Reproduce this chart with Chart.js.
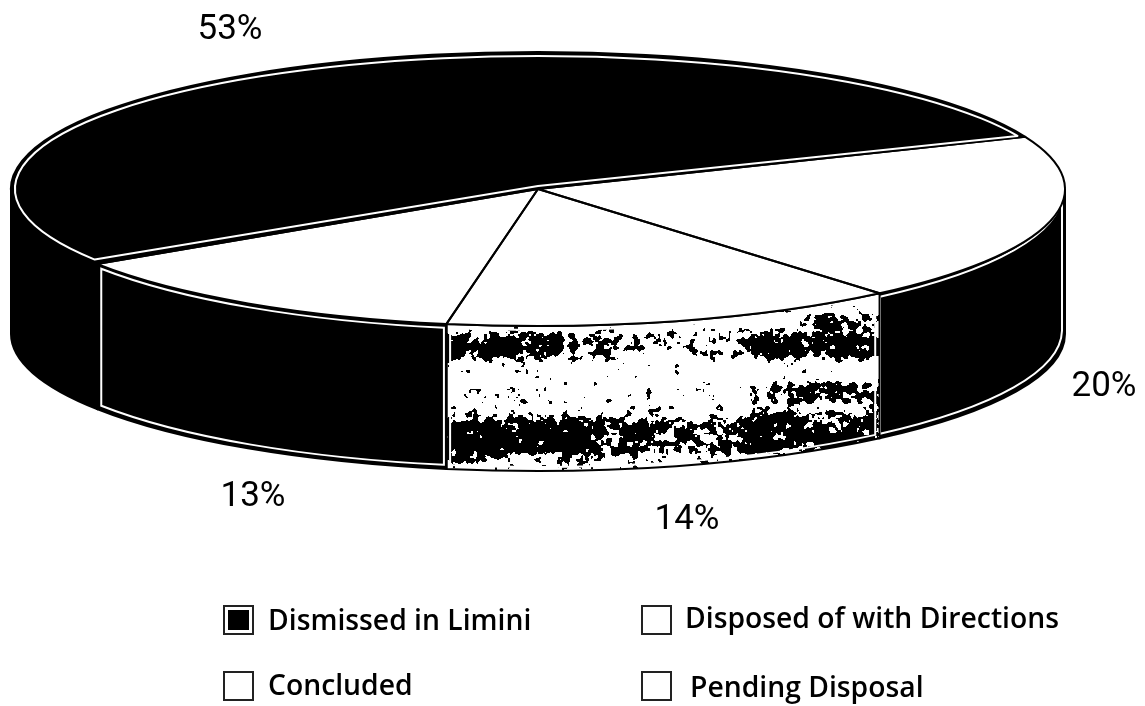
<!DOCTYPE html>
<html>
<head>
<meta charset="utf-8">
<title>Disposal of cases</title>
<script src="https://cdn.jsdelivr.net/npm/chart.js@4"></script>
<style>
  html, body { margin: 0; padding: 0; background: #fff; }
  canvas { display: block; }
</style>
</head>
<body>
<canvas id="pie3d" width="1145" height="706"></canvas>
<script>
// Data
const categories = ['Dismissed in Limini', 'Disposed of with Directions', 'Concluded', 'Pending Disposal'];
const shares = [53, 20, 14, 13];

// Colours of the top face, in the same order as the data
const topColors = ['#000', '#fff', '#fff', '#fff'];
const wallColors = ['#000', '#000', 'mottled', '#000'];
const wallInset = [false, true, true, true];

// Tilt of the pie
const RADIUS = 527;
const TILT = 137 / 527;
const DEPTH = 145;

// Where the percentages and the legend rows sit
const percentSpots = [[230, 30], [1104, 387], [687, 520], [253, 497]];
const legendSpots = [[224, 606, 268, 630], [642, 606, 685, 628], [224, 672, 268, 695], [642, 672, 690, 697]];

function hash(x, y) {
  const s = Math.sin(x * 127.1 + y * 311.7) * 43758.5453;
  return s - Math.floor(s);
}

function smooth(x, y) {
  const ix = Math.floor(x), iy = Math.floor(y);
  let fx = x - ix, fy = y - iy;
  fx = fx * fx * (3 - 2 * fx);
  fy = fy * fy * (3 - 2 * fy);
  const a = hash(ix, iy) + (hash(ix + 1, iy) - hash(ix, iy)) * fx;
  const b = hash(ix, iy + 1) + (hash(ix + 1, iy + 1) - hash(ix, iy + 1)) * fx;
  return a + (b - a) * fy;
}

// Flat topped band
function bump(v, mid, width) {
  const d = (v - mid) / width;
  return Math.exp(-d * d * d * d);
}

function ramp(u, points) {
  for (let i = 1; i < points.length; i++) {
    if (u <= points[i][0]) {
      const p = points[i - 1], q = points[i];
      return p[1] + (q[1] - p[1]) * (u - p[0]) / (q[0] - p[0]);
    }
  }
  return points[points.length - 1][1];
}

// Scanned print texture of the "Concluded" wall: dark bands across the page,
// u runs along the wall and y is the page row
function mottledDensity(u, y) {
  const upper = bump(y, 345, 15) * ramp(u, [[0, 1], [0.2, 0.8], [0.4, 0.45], [0.6, 0.2], [0.72, 0.85], [0.9, 1], [1, 0.8]]);
  const high = bump(y, 322, 10) * ramp(u, [[0, 0], [0.75, 0], [0.85, 0.7], [1, 0.7]]);
  const lower = bump(y, 438 - 6 * u, 23) * ramp(u, [[0, 1], [0.3, 1], [0.5, 0.65], [0.62, 0.5], [0.7, 1], [0.9, 0.95], [1, 0.7]]);
  const middle = bump(y, 393, 11) * ramp(u, [[0, 0.15], [0.65, 0.03], [0.8, 0.85], [1, 0.6]]);
  return Math.max(upper, high, lower, middle);
}

function paintMottled(ctx, cx, cy, rx, ry, a0, a1) {
  const left = Math.floor(cx + rx * Math.cos(a1));
  const right = Math.ceil(cx + rx * Math.cos(a0));
  const w = right - left;
  const top = Math.floor(cy + ry * Math.min(Math.sin(a0), Math.sin(a1)));
  const h = Math.ceil(cy + ry + DEPTH) - top;
  const off = document.createElement('canvas');
  off.width = w;
  off.height = h;
  const octx = off.getContext('2d');
  const img = octx.createImageData(w, h);
  for (let py = 0; py < h; py++) {
    for (let px = 0; px < w; px++) {
      const n = 0.6 * smooth(px / 7, py / 6) + 0.4 * smooth(px / 2.6 + 40, py / 2.6 + 9);
      const dark = n < 0.2 + 0.55 * mottledDensity(px / w, top + py);
      const i = (py * w + px) * 4;
      const c = dark ? 0 : 255;
      img.data[i] = c; img.data[i + 1] = c; img.data[i + 2] = c; img.data[i + 3] = 255;
    }
  }
  octx.putImageData(img, 0, 0);
  ctx.drawImage(off, left, top);
}

function wallPath(ctx, cx, cy, rx, ry, a0, a1, topY, botY) {
  ctx.beginPath();
  ctx.ellipse(cx, cy + topY, rx, ry, 0, a0, a1);
  ctx.ellipse(cx, cy + botY, rx, ry, 0, a1, a0, true);
  ctx.closePath();
}

// The front part of a slice, where its wall can be seen
function frontRange(el) {
  for (const turn of [0, Math.PI * 2]) {
    const a0 = Math.max(el.startAngle, turn);
    const a1 = Math.min(el.endAngle, turn + Math.PI);
    if (a1 > a0) return [a0, a1];
  }
  return null;
}

const pie3d = {
  id: 'pie3d',
  beforeDatasetsDraw(chart) {
    const ctx = chart.ctx;
    const arcs = chart.getDatasetMeta(0).data;
    arcs.forEach((el, i) => {
      const range = frontRange(el);
      if (!range) return;
      const rx = el.outerRadius, ry = rx * TILT;
      const [a0, a1] = range;
      ctx.save();
      wallPath(ctx, el.x, el.y, rx, ry, a0, a1, 0, DEPTH);
      if (wallColors[i] === 'mottled') {
        ctx.save();
        ctx.clip();
        paintMottled(ctx, el.x, el.y, rx, ry, a0, a1);
        ctx.restore();
        wallPath(ctx, el.x, el.y, rx, ry, a0, a1, 0, DEPTH);
      } else {
        ctx.fillStyle = wallColors[i];
        ctx.fill();
      }
      ctx.lineWidth = 2;
      ctx.strokeStyle = '#000';
      ctx.stroke();
      if (wallInset[i]) {
        wallPath(ctx, el.x, el.y, rx - 3, ry, a0 + 0.006, a1 - 0.006, 4, DEPTH - 4);
        ctx.strokeStyle = '#fff';
        ctx.lineWidth = 2;
        ctx.stroke();
      }
      ctx.restore();
    });
    // Squash the slices the library draws next
    const { x, y } = arcs[0];
    ctx.save();
    ctx.translate(x, y);
    ctx.scale(1, TILT);
    ctx.translate(-x, -y);
  },
  afterDatasetsDraw(chart) {
    const ctx = chart.ctx;
    ctx.restore();
    const arcs = chart.getDatasetMeta(0).data;
    ctx.save();
    ctx.lineJoin = 'round';
    arcs.forEach(el => {
      const rx = el.outerRadius, ry = rx * TILT;
      ctx.beginPath();
      ctx.moveTo(el.x, el.y);
      ctx.ellipse(el.x, el.y, rx, ry, 0, el.startAngle, el.endAngle);
      ctx.closePath();
      ctx.strokeStyle = '#000';
      ctx.lineWidth = 2;
      ctx.stroke();
    });
    // Thin white rim inside the dark slice
    arcs.forEach((el, i) => {
      if (topColors[i] !== '#000') return;
      const rx = el.outerRadius - 4, ry = rx * TILT - 3;
      ctx.beginPath();
      ctx.moveTo(el.x, el.y - 3);
      ctx.ellipse(el.x, el.y, rx, ry, 0, el.startAngle + 0.02, el.endAngle - 0.02);
      ctx.closePath();
      ctx.strokeStyle = '#fff';
      ctx.lineWidth = 2;
      ctx.stroke();
    });
    ctx.restore();
  },
  afterDraw(chart) {
    const ctx = chart.ctx;
    ctx.save();
    ctx.fillStyle = '#000';
    ctx.textBaseline = 'middle';
    ctx.textAlign = 'center';
    ctx.font = '35px Roboto';
    shares.forEach((v, i) => {
      ctx.fillText(v + '%', percentSpots[i][0], percentSpots[i][1]);
    });
    ctx.textBaseline = 'alphabetic';
    ctx.textAlign = 'left';
    ctx.font = '600 28.3px "Open Sans"';
    chart.data.labels.forEach((label, i) => {
      const [bx, by, tx, ty] = legendSpots[i];
      ctx.lineWidth = 2;
      ctx.strokeStyle = '#222';
      ctx.strokeRect(bx, by, 29, 28);
      if (topColors[i] === '#000') {
        ctx.fillRect(bx + 4, by + 4, 21, 20);
      }
      ctx.fillText(label, tx, ty);
    });
    ctx.restore();
  }
};

new Chart(document.getElementById('pie3d'), {
  type: 'pie',
  plugins: [pie3d],
  data: {
    labels: categories,
    datasets: [{
      data: shares,
      backgroundColor: topColors,
      borderWidth: 0,
      clip: false
    }]
  },
  options: {
    responsive: false,
    animation: false,
    rotation: 236.8,
    radius: RADIUS,
    layout: { padding: { left: 0, top: 0, right: 69, bottom: 328 } },
    events: [],
    plugins: {
      legend: { display: false },
      tooltip: { enabled: false }
    }
  }
});
</script>
</body>
</html>
